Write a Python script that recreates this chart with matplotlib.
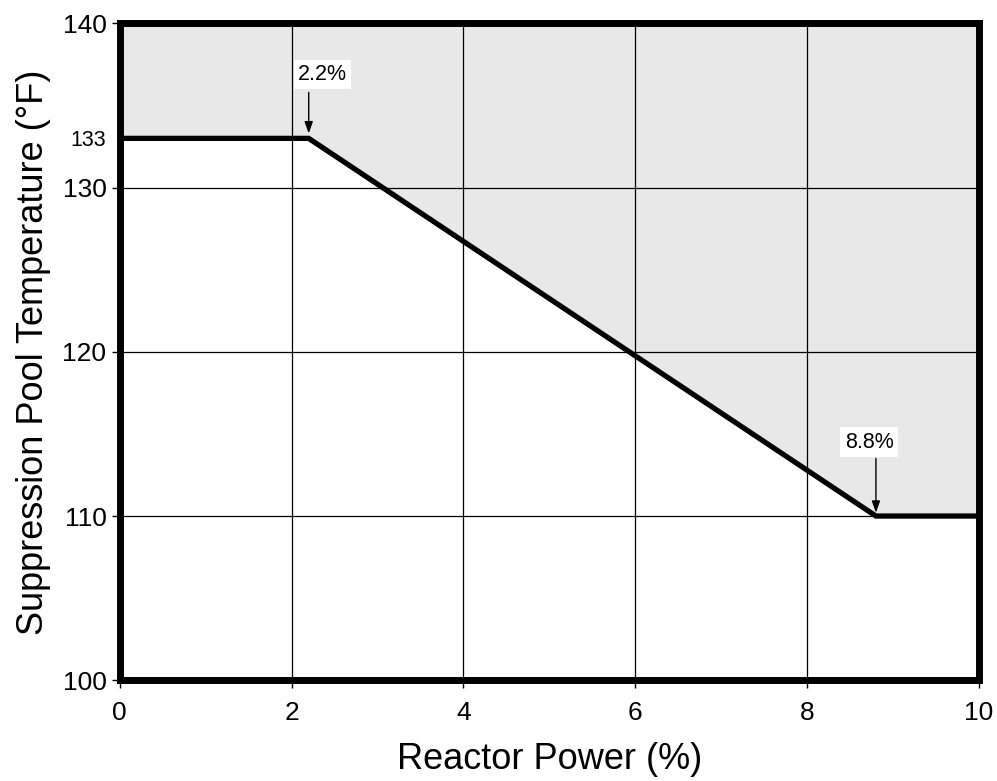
import matplotlib.pyplot as plt
import numpy as np

# --------------------------------------------------
# chart data
# --------------------------------------------------
power = [0.0, 2.2, 8.8, 10.0]
temp_limit = [133.0, 133.0, 110.0, 110.0]
x_ticks = [0, 2, 4, 6, 8, 10]
y_ticks = [100, 110, 120, 130, 140]
y_extra_tick = 133
# label, arrow x, arrow tip y, arrow base y, text x, text y
callouts = [
    ("2.2%", 2.2, 133.3, 135.8, 2.36, 136.9),
    ("8.8%", 8.8, 110.2, 113.5, 8.72, 114.5),
]

plt.rcParams["font.family"] = ["Liberation Sans", "DejaVu Sans"]

fig = plt.figure(figsize=(9.97, 7.81), dpi=100)
ax = fig.add_axes([0.120, 0.129, 0.862, 0.841])

# shaded region above the limit line
ax.fill_between(power, temp_limit, 140, color="#e8e8e8", zorder=0)

# grid
for xv in x_ticks[1:-1]:
    ax.axvline(xv, color="black", lw=0.9, zorder=1)
for yv in y_ticks[1:-1]:
    ax.axhline(yv, color="black", lw=0.9, zorder=1)

# limit line
ax.plot(power, temp_limit, color="black", lw=3.8, solid_joinstyle="miter", zorder=3)

# callouts: label box plus vertical arrow
for label, ax_x, tip_y, base_y, tx, ty in callouts:
    ax.text(tx, ty, label, ha="center", va="center", fontsize=15.5, zorder=4,
            bbox=dict(boxstyle="square,pad=0.2", fc="white", ec="none"))
    ax.annotate(
        "", xy=(ax_x, tip_y), xytext=(ax_x, base_y),
        arrowprops=dict(arrowstyle="-|>,head_length=0.7,head_width=0.25",
                        color="black", lw=1.0, shrinkA=0, shrinkB=0),
        zorder=4,
    )

ax.set_xlim(0, 10)
ax.set_ylim(100, 140)
ax.set_xticks(x_ticks)
ax.set_yticks(y_ticks + [y_extra_tick])
ax.set_yticklabels([str(v) for v in y_ticks] + [str(y_extra_tick)])
ax.tick_params(axis="both", labelsize=19, length=6, width=1, direction="out")
ax.tick_params(axis="x", pad=9)
for lab in ax.get_yticklabels():
    if lab.get_text() == str(y_extra_tick):
        lab.set_fontsize(15.5)
ax.get_yticklines()[-2].set_visible(False)

for sp in ax.spines.values():
    sp.set_linewidth(5)
    sp.set_zorder(5)

ax.set_xlabel("Reactor Power (%)", fontsize=26, labelpad=12)
ax.set_ylabel("Suppression Pool Temperature (°F)", fontsize=26, labelpad=8)

fig.savefig("out.png", dpi=100)
